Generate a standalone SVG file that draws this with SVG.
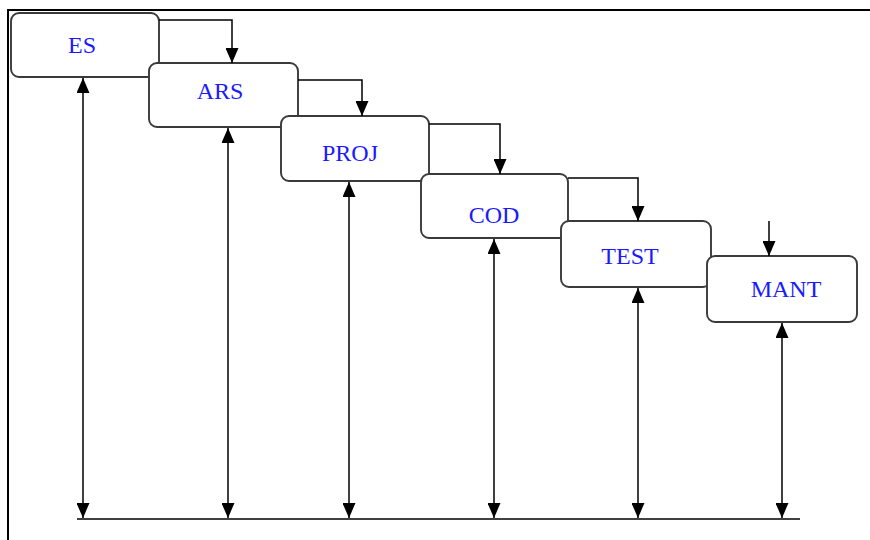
<svg xmlns="http://www.w3.org/2000/svg" width="870" height="540" viewBox="0 0 870 540">
<style>
.box{fill:#fff;stroke:#3a3a3a;stroke-width:1.9}
.lbl{font-family:"Liberation Serif","Times New Roman",serif;font-size:24px;fill:#1a1aff;text-anchor:middle}
.con{fill:none;stroke:#000;stroke-width:1.5}
.frame{fill:none;stroke:#000;stroke-width:2}
</style>
<defs>
<marker id="ah" markerUnits="userSpaceOnUse" markerWidth="15" markerHeight="13" refX="15" refY="6.5" orient="auto-start-reverse">
<path d="M0,0 L15,6.5 L0,13 z" fill="#000"/>
</marker>
</defs>
<rect width="870" height="540" fill="#fff"/>
<path class="frame" d="M8,540 V10 H870"/>
<g id="node-es"><rect class="box" x="11" y="13" width="148" height="64" rx="8"/><text class="lbl" x="82" y="53">ES</text></g>
<g id="node-ars"><rect class="box" x="149" y="63" width="149" height="64" rx="8"/><text class="lbl" x="220" y="99">ARS</text></g>
<g id="node-proj"><rect class="box" x="281" y="116" width="148" height="65" rx="8"/><text class="lbl" x="350" y="161">PROJ</text></g>
<g id="node-cod"><rect class="box" x="421" y="174" width="147" height="64" rx="8"/><text class="lbl" x="494" y="223">COD</text></g>
<g id="node-test"><rect class="box" x="561" y="221" width="150" height="66" rx="8"/><text class="lbl" x="630" y="264">TEST</text></g>
<g id="node-mant"><rect class="box" x="707" y="256" width="150" height="66" rx="8"/><text class="lbl" x="786" y="297">MANT</text></g>
<g id="connectors">
<path class="con" d="M159,20 H232 V63" marker-end="url(#ah)"/>
<path class="con" d="M298,80 H362 V116" marker-end="url(#ah)"/>
<path class="con" d="M429,124 H500 V174" marker-end="url(#ah)"/>
<path class="con" d="M568,178 H638 V221" marker-end="url(#ah)"/>
<path class="con" d="M769,221 V256" marker-end="url(#ah)"/>
<path class="con" d="M83,78 V518" marker-start="url(#ah)" marker-end="url(#ah)"/>
<path class="con" d="M228,128 V518" marker-start="url(#ah)" marker-end="url(#ah)"/>
<path class="con" d="M349,182 V518" marker-start="url(#ah)" marker-end="url(#ah)"/>
<path class="con" d="M494,239 V518" marker-start="url(#ah)" marker-end="url(#ah)"/>
<path class="con" d="M638,288 V518" marker-start="url(#ah)" marker-end="url(#ah)"/>
<path class="con" d="M782,323 V518" marker-start="url(#ah)" marker-end="url(#ah)"/>
<path class="con" d="M77,519 H800" stroke-width="2"/>
</g>
</svg>
